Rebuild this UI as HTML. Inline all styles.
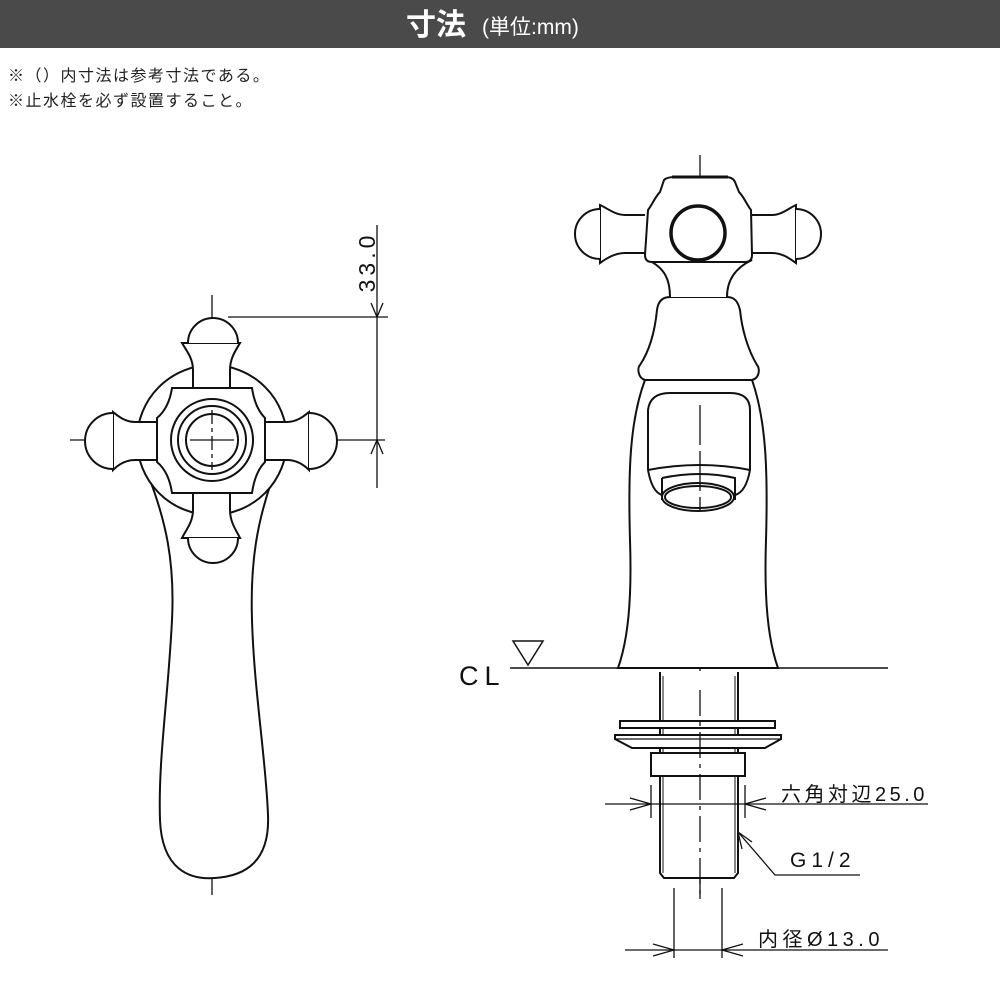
<!DOCTYPE html>
<html><head><meta charset="utf-8"><style>
body{margin:0;background:#fff}
svg{display:block}
text{font-family:"Liberation Sans","Noto Sans CJK JP",sans-serif}
</style></head><body>
<svg width="1000" height="1000" viewBox="0 0 1000 1000" xmlns="http://www.w3.org/2000/svg">
<rect x="0" y="0" width="1000" height="48" fill="#4a4a4a"/>
<text x="436" y="35" fill="#fff" font-size="30" font-weight="bold" text-anchor="middle">寸法</text>
<text x="482" y="34" fill="#fff" font-size="21">(単位:mm)</text>
<text x="8" y="81" font-size="16" fill="#222" letter-spacing="1.5">※（）内寸法は参考寸法である。</text>
<text x="8" y="106" font-size="16" fill="#222" letter-spacing="1.5">※止水栓を必ず設置すること。</text>

<g fill="none" stroke="#111" stroke-width="2">
<!-- LEFT VIEW -->
<line x1="70" y1="440" x2="385" y2="440" stroke-width="1.3"/>
<line x1="212" y1="295" x2="212" y2="895" stroke-width="1.3" stroke-dasharray="40 6 4 6"/>
<path d="M150 480 C165 520,175 560,172 620 C168 700,158 760,160 820 C162 870,190 880,215 878 C245 876,270 862,268 815 C266 760,254 690,252 620 C250 560,258 520,272 480" fill="#fff"/>
<circle cx="212" cy="440" r="75" fill="#fff"/>
<path d="M193 388 L193 370 C193 358,186 350,182 343 L240 343 C236 350,230 358,230 370 L230 388" fill="#fff"/>
<path d="M188 343 A25 25 0 0 1 238 343" fill="#fff"/>
<path d="M193 493 L193 510 C193 522,186 530,182 538 L240 538 C236 530,230 522,230 510 L230 493" fill="#fff"/>
<path d="M188 538 A25 25 0 0 0 238 538" fill="#fff"/>
<path d="M157 422 L135 422 C125 422,118 416,113 412 L113 470 C118 465,125 460,135 460 L157 460" fill="#fff"/>
<path d="M113 413 A28 28 0 0 0 113 469" fill="#fff"/>
<path d="M265 422 L287 422 C297 422,304 416,309 412 L309 470 C304 465,297 460,287 460 L265 460" fill="#fff"/>
<path d="M309 413 A28 28 0 0 1 309 469" fill="#fff"/>
<path d="M172 388 L252 388 Q255 408 265 418 L265 462 Q255 472 252 493 L172 493 Q169 472 157 462 L157 418 Q169 408 172 388Z" fill="#fff"/>
<circle cx="212" cy="440" r="41"/>
<circle cx="212" cy="440" r="34"/>
<circle cx="212" cy="440" r="26"/>
<line x1="212" y1="410" x2="212" y2="470" stroke-width="1.3" stroke-dasharray="14 4 4 4"/>
<line x1="190" y1="440" x2="234" y2="440" stroke-width="1.3"/>
<g stroke-width="1.3">
<line x1="228" y1="317" x2="388" y2="317"/>
<line x1="377" y1="225" x2="377" y2="488"/>
<path d="M371 303 L377 317 L383 303"/>
<path d="M371 454 L377 440 L383 454"/>
</g>

<!-- RIGHT VIEW -->
<line x1="700" y1="155" x2="700" y2="905" stroke-width="1.3" stroke-dasharray="60 6 4 6"/>
<path d="M645 380 C630 420,628 470,630 540 C632 600,628 640,618 668 L778 668 C768 640,764 600,766 540 C768 470,766 420,752 380Z" fill="#fff"/>
<path d="M645 380 C638 378,637 368,640 365 C650 350,655 330,657 310 C658 302,662 297,670 297 L727 297 C735 297,738 302,740 310 C742 330,748 350,757 365 C760 368,760 378,752 380Z" fill="#fff"/>
<path d="M670 297 C670 280,665 268,648 260 L752 260 C735 268,727 280,727 297" fill="#fff"/>
<path d="M645 215 L625 215 C615 215,607 208,600 205 L600 263 C607 258,615 253,625 253 L645 253" fill="#fff"/>
<path d="M600 209 A24 24 0 0 0 600 259" fill="#fff"/>
<path d="M752 215 L772 215 C782 215,789 208,796 205 L796 263 C789 258,782 253,772 253 L752 253" fill="#fff"/>
<path d="M796 209 A24 24 0 0 1 796 259" fill="#fff"/>
<path d="M648 210 C652 205,655 197,660 192 L664 180 Q667 177,675 177 L725 177 Q733 177,735 182 L739 192 C744 197,747 205,751 210 L752 255 Q752 262,745 262 L652 262 Q645 262,645 255Z" fill="#fff"/>
<line x1="672" y1="177" x2="728" y2="177" stroke-width="3"/>
<circle cx="698" cy="233" r="27" stroke-width="3.5"/>
<path d="M648 470 L648 410 Q650 393,670 393 L730 393 Q750 393,750 410 L750 470" />
<path d="M648 470 Q652 492,662 495 M750 470 Q746 492,735 495"/>
<path d="M648 470 Q700 460,750 470"/>
<path d="M662 478 Q700 470,735 478 L735 500 M662 478 L662 500"/>
<ellipse cx="698" cy="497" rx="36" ry="14" fill="#fff"/>
<ellipse cx="698" cy="497" rx="33" ry="11"/>
<line x1="700" y1="405" x2="700" y2="510" stroke-width="1.3" stroke-dasharray="40 6"/>
<line x1="510" y1="668" x2="888" y2="668" stroke-width="1.5"/>
<path d="M513 641 L543 641 L528 665Z" stroke-width="1.5"/>
<path d="M660 672 L660 873 L664 878 L734 878 L738 873 L738 672" fill="#fff"/>
<line x1="663" y1="676" x2="663" y2="873" stroke-width="1"/>
<line x1="735" y1="676" x2="735" y2="873" stroke-width="1"/>
<rect x="620" y="721" width="155" height="7" fill="#fff"/>
<path d="M615 735 L781 735 L781 739 L765 748 L632 748 L615 739Z" fill="#fff"/>
<line x1="615" y1="739" x2="781" y2="739" stroke-width="1.3"/>
<rect x="651" y="753" width="94" height="23" fill="#fff"/>
<line x1="700" y1="690" x2="700" y2="900" stroke-width="1.3" stroke-dasharray="26 6 4 6"/>
<g stroke-width="1.3">
<line x1="651" y1="785" x2="651" y2="818"/>
<line x1="745" y1="785" x2="745" y2="818"/>
<line x1="605" y1="804" x2="928" y2="804"/>
<path d="M630 798 L651 804 L630 810"/>
<path d="M766 798 L745 804 L766 810"/>
<path d="M738 832 L775 875 L860 875"/>
<path d="M742 849 L738 832 L752 842"/>
<line x1="674" y1="888" x2="674" y2="958"/>
<line x1="722" y1="888" x2="722" y2="958"/>
<line x1="625" y1="950" x2="888" y2="950"/>
<path d="M653 944 L674 950 L653 956"/>
<path d="M743 944 L722 950 L743 956"/>
</g>
</g>
<text transform="translate(375,262) rotate(-90)" font-size="23" text-anchor="middle" fill="#111" letter-spacing="4">33.0</text>
<text x="459" y="685" font-size="27" fill="#111" letter-spacing="6">CL</text>
<text x="781" y="801" font-size="20" fill="#111" letter-spacing="3.5">六角対辺25.0</text>
<text x="790" y="867" font-size="21" fill="#111" letter-spacing="5">G1/2</text>
<text x="758" y="946" font-size="20" fill="#111" letter-spacing="4.5">内径Ø13.0</text>
</svg>
</body></html>
